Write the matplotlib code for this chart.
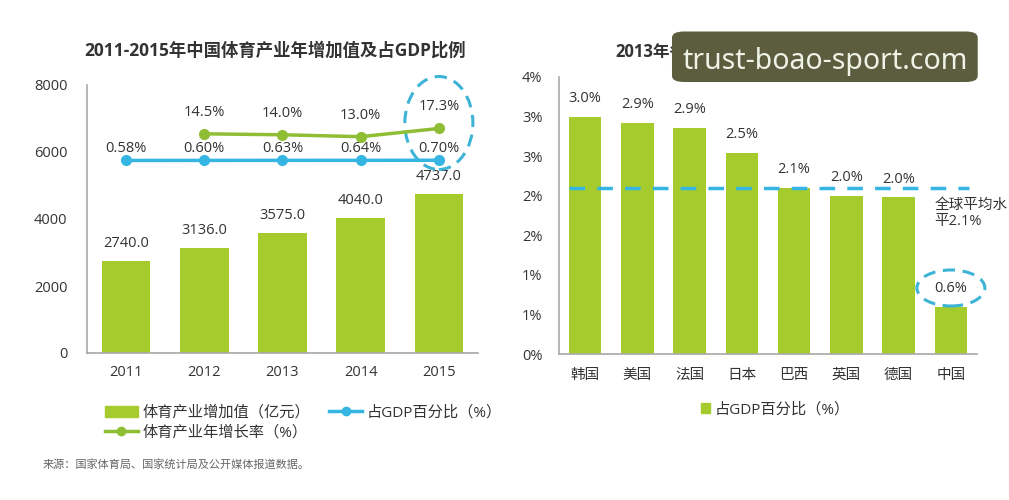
import matplotlib.pyplot as plt
from matplotlib.patches import Ellipse, Patch, FancyBboxPatch
from matplotlib.lines import Line2D

plt.rcParams['font.family'] = ['Open Sans', 'Noto Sans CJK SC', 'DejaVu Sans']

# data
years = ['2011', '2012', '2013', '2014', '2015']
added_value = [2740.0, 3136.0, 3575.0, 4040.0, 4737.0]
gdp_share = [0.58, 0.60, 0.63, 0.64, 0.70]
growth_years = ['2012', '2013', '2014', '2015']
growth_rate = [14.5, 14.0, 13.0, 17.3]

countries = ['韩国', '美国', '法国', '日本', '巴西', '英国', '德国', '中国']
country_share = [3.0, 2.92, 2.86, 2.54, 2.1, 2.0, 1.98, 0.6]
world_avg = 2.1
right_ticks = [0, 0.5, 1.0, 1.5, 2.0, 2.5, 3.0, 3.5]
right_ticklabels = ['0%', '1%', '1%', '2%', '2%', '3%', '3%', '4%']

bar_c = '#a5cc2c'
green_c = '#8fbe35'
blue_c = '#35b6e2'
ring_c = '#3db3d6'
axis_c = '#a8a8a8'
txt_c = '#333333'
fs = 10.5

fig = plt.figure(figsize=(10.09, 5.0), dpi=100)

# left chart
ax = fig.add_axes([0.0862, 0.294, 0.3875, 0.536])
x = list(range(len(years)))
ax.bar(x, added_value, width=0.62, color=bar_c, zorder=2)
for xi, v in zip(x, added_value):
    ax.annotate(f'{v:.1f}', (xi, v), xytext=(0, 12.5), textcoords='offset points',
                ha='center', va='center', fontsize=fs, color=txt_c)
ax.set_xlim(-0.5, 4.5)
ax.set_ylim(0, 8000)
ax.set_yticks([0, 2000, 4000, 6000, 8000])
ax.set_xticks(x)
ax.set_xticklabels(years)
ax.tick_params(length=0, labelsize=fs, colors=txt_c)
ax.tick_params(axis='y', pad=14)
ax.tick_params(axis='x', pad=9)
for s in ['top', 'right']:
    ax.spines[s].set_visible(False)
for s in ['left', 'bottom']:
    ax.spines[s].set_color(axis_c)
    ax.spines[s].set_linewidth(1.2)

ax2 = ax.twinx()
ax2.set_ylim(-100, 40)
ax2.set_xlim(-0.5, 4.5)
ax2.axis('off')
ax2.plot(x, gdp_share, color=blue_c, lw=2.5, marker='o', ms=7, zorder=3)
gx = [years.index(y) for y in growth_years]
ax2.plot(gx, growth_rate, color=green_c, lw=2.5, marker='o', ms=7, zorder=3)
for xi, v in zip(x, gdp_share):
    ax2.annotate(f'{v:.2f}%', (xi, v), xytext=(0, 8.5), textcoords='offset points',
                 ha='center', va='center', fontsize=fs, color=txt_c)
for xi, v in zip(gx, growth_rate):
    ax2.annotate(f'{v:.1f}%', (xi, v), xytext=(0, 15.5), textcoords='offset points',
                 ha='center', va='center', fontsize=fs, color=txt_c)
ax.add_patch(Ellipse((4.0, 6866), 0.87, 2776, fill=False, ec=ring_c, lw=2.2,
                     ls=(0, (4, 2.5)), clip_on=False, zorder=5))
ax.set_title('2011-2015年中国体育产业年增加值及占GDP比例', fontsize=12.5,
             fontweight='bold', color=txt_c, pad=21, x=0.48)

handles = [Patch(color=bar_c), Line2D([], [], color=green_c, lw=2.5, marker='o', ms=6),
           Line2D([], [], color=blue_c, lw=2.5, marker='o', ms=6)]
labels = ['体育产业增加值（亿元）', '体育产业年增长率（%）', '占GDP百分比（%）']
fig.legend(handles, labels, loc='upper left', bbox_to_anchor=(0.09, 0.216),
           ncol=2, frameon=False, fontsize=11, handlelength=2.2, handletextpad=0.3,
           columnspacing=1.2, labelspacing=0.3, labelcolor=txt_c)

fig.text(0.042, 0.07, '来源：国家体育局、国家统计局及公开媒体报道数据。',
         fontsize=8, color='#666666', va='center')

# right chart
bx = fig.add_axes([0.554, 0.292, 0.4143, 0.554])
cx = list(range(len(countries)))
bx.bar(cx, country_share, width=0.62, color=bar_c, zorder=2)
for xi, v in zip(cx, country_share):
    bx.annotate(f'{v:.1f}%', (xi, v), xytext=(0, 13), textcoords='offset points',
                ha='center', va='center', fontsize=fs, color=txt_c)
bx.hlines(world_avg, -0.3, 7.35, colors=blue_c, lw=2.5, linestyles=(0, (4.5, 3.5)), zorder=3)
bx.text(6.68, 1.78, '全球平均水\n平2.1%', fontsize=fs, color=txt_c, va='center',
        linespacing=1.1)
bx.add_patch(Ellipse((7.0, 0.834), 1.30, 0.455, fill=False, ec=ring_c, lw=2.2,
                     ls=(0, (4, 2.5)), clip_on=False, zorder=5))
bx.set_xlim(-0.5, 7.5)
bx.set_ylim(0, 3.5)
bx.set_yticks(right_ticks)
bx.set_yticklabels(right_ticklabels)
bx.set_xticks(cx)
bx.set_xticklabels(countries)
bx.tick_params(length=0, labelsize=fs, colors=txt_c)
bx.tick_params(axis='y', pad=12)
bx.tick_params(axis='x', pad=10)
for s in ['top', 'right']:
    bx.spines[s].set_visible(False)
for s in ['left', 'bottom']:
    bx.spines[s].set_color(axis_c)
    bx.spines[s].set_linewidth(1.2)
bx.set_title('2013年各国体育产业年增加值占GDP比例', fontsize=12,
             fontweight='bold', color=txt_c, pad=14)
fig.legend([Patch(color=bar_c)], ['占GDP百分比（%）'], loc='center left',
           bbox_to_anchor=(0.681, 0.18), frameon=False, fontsize=11,
           handlelength=0.6, handleheight=0.6, handletextpad=0.3, labelcolor=txt_c)

# watermark
fig.patches.append(FancyBboxPatch((0.666, 0.836), 0.303, 0.101, boxstyle='round,pad=0,rounding_size=0.012',
                                  transform=fig.transFigure, fc='#5c5c3e', ec='none', zorder=10))
fig.text(0.818, 0.877, 'trust-boao-sport.com', fontsize=20.5, color='#eef3e6',
         ha='center', va='center', family='Noto Sans', zorder=11)

fig.savefig('out.png', dpi=100)
